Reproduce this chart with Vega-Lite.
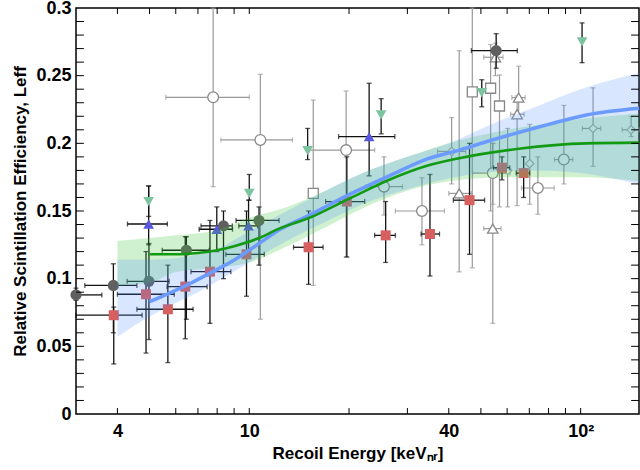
{
  "$schema": "https://vega.github.io/schema/vega-lite/v6.json",
  "width": 563,
  "height": 406,
  "autosize": {"type": "none"},
  "padding": {"left": 76, "top": 8, "right": 1, "bottom": 56},
  "config": {
    "view": {"stroke": "black", "strokeWidth": 1.5},
    "font": "Liberation Sans",
    "axis": {"grid": false, "domain": false, "ticks": false, "labelColor": "black", "titleColor": "black", "labelFont": "Liberation Sans", "titleFont": "Liberation Sans", "labelFontWeight": "bold", "titleFontWeight": "bold", "labelFontSize": 18, "labelOverlap": false, "labelFlush": false}
  },
  "datasets": {
    "pts": [
      {"s": "gc", "E": 3.0, "L": 0.088, "Elo": 3.0, "Ehi": 3.59, "Llo": 0.084, "Lhi": 0.093},
      {"s": "gc", "E": 3.89, "L": 0.095, "Elo": 3.19, "Ehi": 4.58, "Llo": 0.06, "Lhi": 0.111},
      {"s": "gc", "E": 4.98, "L": 0.098, "Elo": 4.28, "Ehi": 5.73, "Llo": 0.055, "Lhi": 0.126},
      {"s": "gc", "E": 6.46, "L": 0.121, "Elo": 5.46, "Ehi": 7.57, "Llo": 0.07, "Lhi": 0.131},
      {"s": "gc", "E": 8.36, "L": 0.139, "Elo": 7.15, "Ehi": 8.89, "Llo": 0.1, "Lhi": 0.15},
      {"s": "gc", "E": 10.7, "L": 0.143, "Elo": 9.12, "Ehi": 12.3, "Llo": 0.11, "Lhi": 0.153},
      {"s": "gc", "E": 55.6, "L": 0.2685, "Elo": 46.8, "Ehi": 64.4, "Llo": 0.2555, "Lhi": 0.281},
      {"s": "rs", "E": 3.9, "L": 0.073, "Elo": 3.0, "Ehi": 4.75, "Llo": 0.037, "Lhi": 0.079},
      {"s": "rs", "E": 4.88, "L": 0.0885, "Elo": 4.0, "Ehi": 5.94, "Llo": 0.045, "Lhi": 0.12},
      {"s": "rs", "E": 5.68, "L": 0.0774, "Elo": 4.58, "Ehi": 6.77, "Llo": 0.038, "Lhi": 0.11},
      {"s": "rs", "E": 6.41, "L": 0.0941, "Elo": 5.65, "Ehi": 7.46, "Llo": 0.0556, "Lhi": 0.131},
      {"s": "rs", "E": 7.61, "L": 0.1052, "Elo": 6.67, "Ehi": 8.8, "Llo": 0.067, "Lhi": 0.143},
      {"s": "rs", "E": 9.81, "L": 0.118, "Elo": 8.5, "Ehi": 11.1, "Llo": 0.087, "Lhi": 0.15},
      {"s": "rs", "E": 15.1, "L": 0.1232, "Elo": 13.6, "Ehi": 16.7, "Llo": 0.0958, "Lhi": 0.15},
      {"s": "rs", "E": 19.7, "L": 0.157, "Elo": 17.0, "Ehi": 22.3, "Llo": 0.116, "Lhi": 0.19},
      {"s": "rs", "E": 25.8, "L": 0.132, "Elo": 23.9, "Ehi": 27.6, "Llo": 0.112, "Lhi": 0.157},
      {"s": "rs", "E": 35.1, "L": 0.133, "Elo": 33.0, "Ehi": 37.5, "Llo": 0.102, "Lhi": 0.177},
      {"s": "rs", "E": 46.2, "L": 0.158, "Elo": 41.3, "Ehi": 51.3, "Llo": 0.118, "Lhi": 0.2},
      {"s": "rs", "E": 57.9, "L": 0.182, "Elo": 54.6, "Ehi": 61.1, "Llo": 0.173, "Lhi": 0.19},
      {"s": "rs", "E": 67.3, "L": 0.178, "Elo": 63.9, "Ehi": 70.2, "Llo": 0.16, "Lhi": 0.19},
      {"s": "bt", "E": 4.97, "L": 0.1404, "Elo": 4.29, "Ehi": 5.66, "Llo": 0.125, "Lhi": 0.1685},
      {"s": "bt", "E": 7.98, "L": 0.1365, "Elo": 7.06, "Ehi": 8.9, "Llo": 0.12, "Lhi": 0.153},
      {"s": "bt", "E": 9.95, "L": 0.139, "Elo": 9.3, "Ehi": 10.6, "Llo": 0.12, "Lhi": 0.158},
      {"s": "bt", "E": 23.0, "L": 0.205, "Elo": 18.6, "Ehi": 27.5, "Llo": 0.176, "Lhi": 0.2444},
      {"s": "td", "E": 4.97, "L": 0.157, "Llo": 0.146, "Lhi": 0.1685},
      {"s": "td", "E": 10.0, "L": 0.163, "Llo": 0.158, "Lhi": 0.177},
      {"s": "td", "E": 15.0, "L": 0.1946, "Llo": 0.188, "Lhi": 0.211},
      {"s": "td", "E": 25.0, "L": 0.221, "Llo": 0.207, "Lhi": 0.233},
      {"s": "td", "E": 50.3, "L": 0.2375, "Llo": 0.227, "Lhi": 0.247},
      {"s": "td", "E": 101, "L": 0.275, "Llo": 0.2596, "Lhi": 0.289},
      {"s": "oc", "E": 7.78, "L": 0.234, "Elo": 5.6, "Ehi": 10.0, "Llo": 0.168, "Lhi": 0.3},
      {"s": "oc", "E": 10.8, "L": 0.2025, "Elo": 8.21, "Ehi": 13.5, "Llo": 0.07, "Lhi": 0.251},
      {"s": "oc", "E": 19.6, "L": 0.195, "Elo": 15.2, "Ehi": 23.9, "Llo": 0.116, "Lhi": 0.2387},
      {"s": "oc", "E": 25.5, "L": 0.168, "Elo": 22.5, "Ehi": 29.0, "Llo": 0.147, "Lhi": 0.19},
      {"s": "oc", "E": 33.2, "L": 0.15, "Elo": 27.6, "Ehi": 38.8, "Llo": 0.125, "Lhi": 0.1746},
      {"s": "oc", "E": 54.3, "L": 0.178, "Elo": 47.2, "Ehi": 61.2, "Llo": 0.155, "Lhi": 0.2},
      {"s": "oc", "E": 74.3, "L": 0.167, "Elo": 66.3, "Ehi": 83.2, "Llo": 0.1476, "Lhi": 0.19},
      {"s": "oc", "E": 89.0, "L": 0.188, "Elo": 83.4, "Ehi": 94.7, "Llo": 0.17, "Lhi": 0.228},
      {"s": "os", "E": 15.6, "L": 0.163, "Llo": 0.095, "Lhi": 0.232},
      {"s": "os", "E": 47.1, "L": 0.238, "Llo": 0.108, "Lhi": 0.3},
      {"s": "os", "E": 53.5, "L": 0.2407, "Llo": 0.15, "Lhi": 0.273},
      {"s": "os", "E": 56.9, "L": 0.2276, "Llo": 0.153, "Lhi": 0.2505},
      {"s": "ot", "E": 43.0, "L": 0.163, "Elo": 40.0, "Ehi": 46.8, "Llo": 0.105, "Lhi": 0.2685},
      {"s": "ot", "E": 54.3, "L": 0.137, "Elo": 51.0, "Ehi": 57.5, "Llo": 0.067, "Lhi": 0.2},
      {"s": "ot", "E": 55.3, "L": 0.2636, "Elo": 51.0, "Ehi": 58.3, "Llo": 0.25, "Lhi": 0.274},
      {"s": "ot", "E": 65.0, "L": 0.2338, "Elo": 62.0, "Ehi": 68.0, "Llo": 0.2215, "Lhi": 0.257},
      {"s": "ot", "E": 64.3, "L": 0.2215, "Elo": 61.5, "Ehi": 67.5, "Llo": 0.154, "Lhi": 0.235},
      {"s": "fx", "E": 40.8, "L": 0.194, "Elo": 37.0, "Ehi": 45.0, "Llo": 0.17, "Lhi": 0.219},
      {"s": "fx", "E": 60.2, "L": 0.18, "Llo": 0.153, "Lhi": 0.211},
      {"s": "fx", "E": 70.2, "L": 0.185, "Llo": 0.155, "Lhi": 0.214},
      {"s": "fx", "E": 109, "L": 0.211, "Elo": 101.2, "Ehi": 115, "Llo": 0.183, "Lhi": 0.241},
      {"s": "fx", "E": 142, "L": 0.21, "Elo": 133.5, "Ehi": 150, "Llo": 0.205, "Lhi": 0.22}
    ],
    "bands": [
      {"b": "green", "E": 4, "lo": 0.095, "hi": 0.128},
      {"b": "green", "E": 5, "lo": 0.097, "hi": 0.13},
      {"b": "green", "E": 6, "lo": 0.105, "hi": 0.132},
      {"b": "green", "E": 8, "lo": 0.108, "hi": 0.136},
      {"b": "green", "E": 10, "lo": 0.112, "hi": 0.145},
      {"b": "green", "E": 13, "lo": 0.124, "hi": 0.153},
      {"b": "green", "E": 17, "lo": 0.138, "hi": 0.165},
      {"b": "green", "E": 22, "lo": 0.152, "hi": 0.178},
      {"b": "green", "E": 30, "lo": 0.165, "hi": 0.19},
      {"b": "green", "E": 40, "lo": 0.172, "hi": 0.2},
      {"b": "green", "E": 60, "lo": 0.175, "hi": 0.21},
      {"b": "green", "E": 100, "lo": 0.175, "hi": 0.218},
      {"b": "green", "E": 150, "lo": 0.172, "hi": 0.222},
      {"b": "blue", "E": 4, "lo": 0.057, "hi": 0.114},
      {"b": "blue", "E": 5, "lo": 0.072, "hi": 0.114},
      {"b": "blue", "E": 6, "lo": 0.082, "hi": 0.115},
      {"b": "blue", "E": 7, "lo": 0.09, "hi": 0.118},
      {"b": "blue", "E": 8, "lo": 0.098, "hi": 0.122},
      {"b": "blue", "E": 10, "lo": 0.112, "hi": 0.135},
      {"b": "blue", "E": 13, "lo": 0.128, "hi": 0.15},
      {"b": "blue", "E": 17, "lo": 0.142, "hi": 0.165},
      {"b": "blue", "E": 22, "lo": 0.155, "hi": 0.178},
      {"b": "blue", "E": 30, "lo": 0.166, "hi": 0.19},
      {"b": "blue", "E": 40, "lo": 0.174, "hi": 0.2},
      {"b": "blue", "E": 55, "lo": 0.179, "hi": 0.215},
      {"b": "blue", "E": 75, "lo": 0.18, "hi": 0.228},
      {"b": "blue", "E": 100, "lo": 0.178, "hi": 0.24},
      {"b": "blue", "E": 150, "lo": 0.17, "hi": 0.252}
    ],
    "curves": [
      {"c": "blue", "E": 5.0, "L": 0.083},
      {"c": "blue", "E": 5.7, "L": 0.089},
      {"c": "blue", "E": 6.7, "L": 0.097},
      {"c": "blue", "E": 7.6, "L": 0.104},
      {"c": "blue", "E": 8.9, "L": 0.113},
      {"c": "blue", "E": 10.7, "L": 0.126},
      {"c": "blue", "E": 12.3, "L": 0.136},
      {"c": "blue", "E": 15.2, "L": 0.147},
      {"c": "blue", "E": 19.6, "L": 0.161},
      {"c": "blue", "E": 27, "L": 0.177},
      {"c": "blue", "E": 34, "L": 0.188},
      {"c": "blue", "E": 43, "L": 0.195},
      {"c": "blue", "E": 55, "L": 0.203},
      {"c": "blue", "E": 65, "L": 0.208},
      {"c": "blue", "E": 80, "L": 0.214},
      {"c": "blue", "E": 104, "L": 0.221},
      {"c": "blue", "E": 150, "L": 0.226},
      {"c": "green", "E": 5.0, "L": 0.118},
      {"c": "green", "E": 6, "L": 0.118},
      {"c": "green", "E": 7, "L": 0.119},
      {"c": "green", "E": 8, "L": 0.121},
      {"c": "green", "E": 9, "L": 0.124},
      {"c": "green", "E": 10.7, "L": 0.13},
      {"c": "green", "E": 12.3, "L": 0.137},
      {"c": "green", "E": 15.2, "L": 0.145},
      {"c": "green", "E": 19.6, "L": 0.158},
      {"c": "green", "E": 27, "L": 0.174},
      {"c": "green", "E": 34, "L": 0.183},
      {"c": "green", "E": 43, "L": 0.189},
      {"c": "green", "E": 65, "L": 0.196},
      {"c": "green", "E": 104, "L": 0.2},
      {"c": "green", "E": 150, "L": 0.2005}
    ],
    "xticks": [
      {"E": 4, "major": false}, {"E": 5, "major": false}, {"E": 6, "major": false},
      {"E": 7, "major": false}, {"E": 8, "major": false}, {"E": 9, "major": false}, {"E": 10, "major": true},
      {"E": 20, "major": false}, {"E": 30, "major": false}, {"E": 40, "major": false}, {"E": 50, "major": false},
      {"E": 60, "major": false}, {"E": 70, "major": false}, {"E": 80, "major": false}, {"E": 90, "major": false},
      {"E": 100, "major": true}
    ],
    "yticks": [
      {"L": 0.01, "major": false}, {"L": 0.02, "major": false}, {"L": 0.03, "major": false}, {"L": 0.04, "major": false}, {"L": 0.05, "major": true},
      {"L": 0.06, "major": false}, {"L": 0.07, "major": false}, {"L": 0.08, "major": false}, {"L": 0.09, "major": false}, {"L": 0.1, "major": true},
      {"L": 0.11, "major": false}, {"L": 0.12, "major": false}, {"L": 0.13, "major": false}, {"L": 0.14, "major": false}, {"L": 0.15, "major": true},
      {"L": 0.16, "major": false}, {"L": 0.17, "major": false}, {"L": 0.18, "major": false}, {"L": 0.19, "major": false}, {"L": 0.2, "major": true},
      {"L": 0.21, "major": false}, {"L": 0.22, "major": false}, {"L": 0.23, "major": false}, {"L": 0.24, "major": false}, {"L": 0.25, "major": true},
      {"L": 0.26, "major": false}, {"L": 0.27, "major": false}, {"L": 0.28, "major": false}, {"L": 0.29, "major": false}
    ]
  },
  "resolve": {"axis": {"x": "independent", "y": "independent"}},
  "layer": [
    {
      "data": {"name": "pts"},
      "transform": [{"filter": "datum.s == 'fx' || datum.s == 'oc' || datum.s == 'os' || datum.s == 'ot'"}],
      "mark": {"type": "errorbar", "ticks": true, "size": 5, "thickness": 1.2, "color": "#999999"},
      "encoding": {
        "x": {"field": "E", "type": "quantitative", "scale": {"type": "log", "domain": [3, 150], "nice": false}, "axis": null},
        "y": {"field": "Llo", "type": "quantitative", "scale": {"domain": [0, 0.3], "nice": false, "zero": false}, "axis": null},
        "y2": {"field": "Lhi"}
      }
    },
    {
      "data": {"name": "pts"},
      "transform": [{"filter": "(datum.s == 'fx' || datum.s == 'oc' || datum.s == 'ot') && isValid(datum.Elo)"}],
      "mark": {"type": "errorbar", "ticks": true, "size": 5, "thickness": 1.2, "color": "#999999"},
      "encoding": {
        "x": {"field": "Elo", "type": "quantitative", "axis": null},
        "x2": {"field": "Ehi"},
        "y": {"field": "L", "type": "quantitative", "axis": null}
      }
    },
    {
      "data": {"name": "pts"},
      "transform": [{"filter": "datum.s == 'fx'"}],
      "mark": {"type": "point", "shape": "diamond", "size": 70, "fill": "white", "stroke": "#aaaaaa", "strokeWidth": 1.2, "opacity": 1},
      "encoding": {
        "x": {"field": "E", "type": "quantitative", "scale": {"type": "log", "domain": [3, 150], "nice": false},
          "axis": {"orient": "bottom", "values": [4, 10, 40, 100],
            "labelExpr": "datum.value == 4 ? '4' : datum.value == 10 ? '10' : datum.value == 40 ? '40' : '10²'",
            "labelPadding": 8,
            "title": "Recoil Energy [keVₙᵣ]", "titleFontSize": 17, "titlePadding": 5}},
        "y": {"field": "L", "type": "quantitative", "scale": {"domain": [0, 0.3], "nice": false, "zero": false},
          "axis": {"orient": "left", "values": [0, 0.05, 0.1, 0.15, 0.2, 0.25, 0.3],
            "labelExpr": "format(datum.value, '~g')",
            "labelPadding": 5,
            "title": "Relative Scintillation Efficiency, Leff", "titleFontSize": 17, "titlePadding": 6}}
      }
    },
    {
      "data": {"name": "pts"},
      "transform": [{"filter": "datum.s == 'oc'"}],
      "mark": {"type": "point", "shape": "circle", "size": 115, "fill": "white", "stroke": "#888888", "strokeWidth": 1.3, "opacity": 1},
      "encoding": {"x": {"field": "E", "type": "quantitative", "axis": null}, "y": {"field": "L", "type": "quantitative", "axis": null}}
    },
    {
      "data": {"name": "pts"},
      "transform": [{"filter": "datum.s == 'os'"}],
      "mark": {"type": "point", "shape": "square", "size": 100, "fill": "white", "stroke": "#888888", "strokeWidth": 1.3, "opacity": 1},
      "encoding": {"x": {"field": "E", "type": "quantitative", "axis": null}, "y": {"field": "L", "type": "quantitative", "axis": null}}
    },
    {
      "data": {"name": "pts"},
      "transform": [{"filter": "datum.s == 'ot'"}],
      "mark": {"type": "point", "shape": "triangle-up", "size": 110, "fill": "white", "stroke": "#888888", "strokeWidth": 1.3, "opacity": 1},
      "encoding": {"x": {"field": "E", "type": "quantitative", "axis": null}, "y": {"field": "L", "type": "quantitative", "axis": null}}
    },
    {
      "data": {"name": "pts"},
      "transform": [{"filter": "datum.s == 'gc' || datum.s == 'rs' || datum.s == 'bt' || datum.s == 'td'"}],
      "mark": {"type": "errorbar", "ticks": true, "size": 5, "thickness": 1.3, "color": "#111111"},
      "encoding": {
        "x": {"field": "E", "type": "quantitative", "axis": null},
        "y": {"field": "Llo", "type": "quantitative", "axis": null},
        "y2": {"field": "Lhi"}
      }
    },
    {
      "data": {"name": "pts"},
      "transform": [{"filter": "(datum.s == 'gc' || datum.s == 'rs' || datum.s == 'bt') && isValid(datum.Elo)"}],
      "mark": {"type": "errorbar", "ticks": true, "size": 5, "thickness": 1.3, "color": "#111111"},
      "encoding": {
        "x": {"field": "Elo", "type": "quantitative", "axis": null},
        "x2": {"field": "Ehi"},
        "y": {"field": "L", "type": "quantitative", "axis": null}
      }
    },
    {
      "data": {"name": "pts"},
      "transform": [{"filter": "datum.s == 'gc'"}],
      "mark": {"type": "point", "shape": "circle", "size": 125, "filled": true, "color": "#606060", "opacity": 1},
      "encoding": {"x": {"field": "E", "type": "quantitative", "axis": null}, "y": {"field": "L", "type": "quantitative", "axis": null}}
    },
    {
      "data": {"name": "pts"},
      "transform": [{"filter": "datum.s == 'rs'"}],
      "mark": {"type": "point", "shape": "square", "size": 100, "filled": true, "color": "#d65f5f", "opacity": 1},
      "encoding": {"x": {"field": "E", "type": "quantitative", "axis": null}, "y": {"field": "L", "type": "quantitative", "axis": null}}
    },
    {
      "data": {"name": "pts"},
      "transform": [{"filter": "datum.s == 'bt'"}],
      "mark": {"type": "point", "shape": "triangle-up", "size": 115, "filled": true, "color": "#5757e0", "opacity": 1},
      "encoding": {"x": {"field": "E", "type": "quantitative", "axis": null}, "y": {"field": "L", "type": "quantitative", "axis": null}}
    },
    {
      "data": {"name": "pts"},
      "transform": [{"filter": "datum.s == 'td'"}],
      "mark": {"type": "point", "shape": "triangle-down", "size": 115, "filled": true, "color": "#7cc4a0", "opacity": 1},
      "encoding": {"x": {"field": "E", "type": "quantitative", "axis": null}, "y": {"field": "L", "type": "quantitative", "axis": null}}
    },
    {
      "data": {"name": "bands"},
      "transform": [{"filter": "datum.b == 'green'"}],
      "mark": {"type": "area", "interpolate": "monotone", "color": "#3cc43c", "opacity": 0.24},
      "encoding": {"x": {"field": "E", "type": "quantitative", "axis": null}, "y": {"field": "lo", "type": "quantitative", "axis": null}, "y2": {"field": "hi"}}
    },
    {
      "data": {"name": "bands"},
      "transform": [{"filter": "datum.b == 'blue'"}],
      "mark": {"type": "area", "interpolate": "monotone", "color": "#4d8cff", "opacity": 0.22},
      "encoding": {"x": {"field": "E", "type": "quantitative", "axis": null}, "y": {"field": "lo", "type": "quantitative", "axis": null}, "y2": {"field": "hi"}}
    },
    {
      "data": {"name": "curves"},
      "transform": [{"filter": "datum.c == 'blue'"}],
      "mark": {"type": "line", "interpolate": "monotone", "color": "#6b9bff", "strokeWidth": 3.5},
      "encoding": {"x": {"field": "E", "type": "quantitative", "axis": null}, "y": {"field": "L", "type": "quantitative", "axis": null}}
    },
    {
      "data": {"name": "curves"},
      "transform": [{"filter": "datum.c == 'green'"}],
      "mark": {"type": "line", "interpolate": "monotone", "color": "#129a12", "strokeWidth": 2.6},
      "encoding": {"x": {"field": "E", "type": "quantitative", "axis": null}, "y": {"field": "L", "type": "quantitative", "axis": null}}
    },
    {
      "data": {"name": "xticks"},
      "mark": {"type": "rule", "color": "black", "strokeWidth": 1, "opacity": 1},
      "encoding": {
        "x": {"field": "E", "type": "quantitative", "axis": null},
        "y": {"datum": 0, "type": "quantitative", "axis": null},
        "y2": {"condition": {"test": "datum.major", "datum": 0.0089}, "datum": 0.0044}
      }
    },
    {
      "data": {"name": "xticks"},
      "mark": {"type": "rule", "color": "black", "strokeWidth": 1, "opacity": 1},
      "encoding": {
        "x": {"field": "E", "type": "quantitative", "axis": null},
        "y": {"datum": 0.3, "type": "quantitative", "axis": null},
        "y2": {"condition": {"test": "datum.major", "datum": 0.2911}, "datum": 0.2956}
      }
    },
    {
      "data": {"name": "yticks"},
      "mark": {"type": "rule", "color": "black", "strokeWidth": 1, "opacity": 1},
      "encoding": {
        "y": {"field": "L", "type": "quantitative", "axis": null},
        "x": {"datum": 3, "type": "quantitative", "axis": null},
        "x2": {"condition": {"test": "datum.major", "datum": 3.378}, "datum": 3.169}
      }
    },
    {
      "data": {"name": "yticks"},
      "mark": {"type": "rule", "color": "black", "strokeWidth": 1, "opacity": 1},
      "encoding": {
        "y": {"field": "L", "type": "quantitative", "axis": null},
        "x": {"datum": 150, "type": "quantitative", "axis": null},
        "x2": {"condition": {"test": "datum.major", "datum": 133.2}, "datum": 142.0}
      }
    }
  ]
}
